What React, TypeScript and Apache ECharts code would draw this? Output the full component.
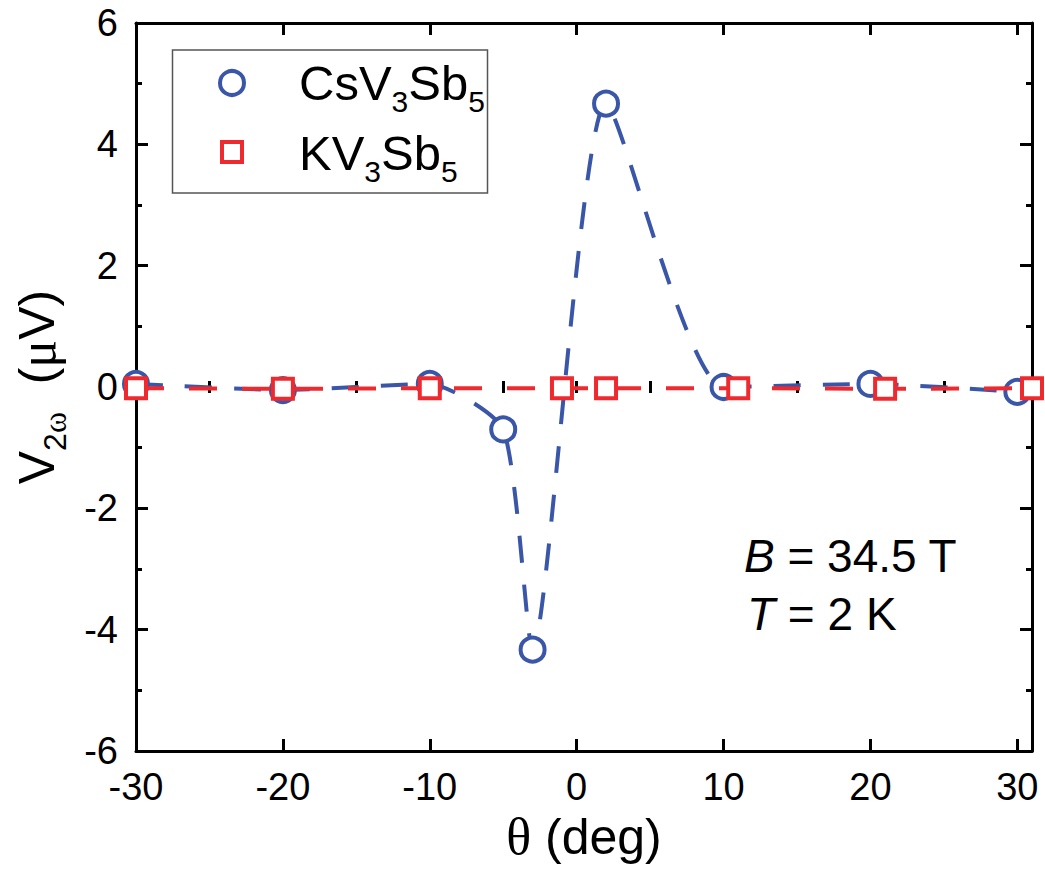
import React, { useEffect, useRef } from "react";
import * as echarts from "echarts";

const FONT = "'Liberation Sans', Arial, Helvetica, sans-serif";
const SERIF = "'Liberation Serif', 'Times New Roman', serif";

// CsV3Sb5 (blue circles)
const csAngles = [-30, -20, -10, -5, -3, 2, 10, 20, 30];
const csValues = [0.05, -0.05, 0.05, -0.7, -4.33, 4.67, 0.0, 0.05, -0.08];
// KV3Sb5 (red squares)
const kAngles = [-30, -20, -10, -1, 2, 11, 21, 31];
const kValues = [-0.02, -0.03, -0.02, -0.02, -0.02, -0.02, -0.03, -0.02];

const xMin = -30;
const xMax = 31;
const yMin = -6;
const yMax = 6;

const BLUE = "#3a56a8";
const RED = "#ee2a2e";

export default function App() {
  const ref = useRef<HTMLDivElement>(null);

  useEffect(() => {
    if (!ref.current) return;
    const chart = echarts.init(ref.current, undefined, { renderer: "svg" });

    const tickLine = { color: "#000", width: 3 };
    const axisLine = { show: true, onZero: false, lineStyle: { color: "#000", width: 3 } };

    const xBase = (pos: string, interval: number, len: number, line: boolean) => ({
      type: "value",
      position: pos,
      min: xMin,
      max: xMax,
      interval,
      axisLine: line ? axisLine : { show: false },
      axisTick: { show: true, inside: true, length: len, lineStyle: tickLine },
      axisLabel: { show: false },
      splitLine: { show: false },
    });

    const subStyle = (fontFamily: string) => ({
      fontSize: 32,
      fontFamily,
      color: "#000",
      lineHeight: 32,
      verticalAlign: "top",
      padding: [38, 0, 0, 0],
    });

    const option: any = {
      animation: false,
      backgroundColor: "#fff",
      grid: { left: 136, right: 13, top: 23, bottom: 125, containLabel: false, outerBoundsMode: "none" },
      xAxis: [
        {
          ...xBase("bottom", 10, 12, true),
          axisLabel: {
            show: true,
            margin: 17,
            fontSize: 38,
            fontFamily: FONT,
            color: "#000",
            showMaxLabel: false,
            formatter: (v: number) => (v > 30 ? "" : String(v)),
          },
          name: "{t|θ}{a| (deg)}",
          nameLocation: "middle",
          nameGap: 56,
          nameTextStyle: {
            rich: {
              t: { fontSize: 52, fontFamily: SERIF, color: "#000", lineHeight: 52 },
              a: { fontSize: 50, fontFamily: FONT, color: "#000", lineHeight: 52 },
            },
          },
        },
        xBase("bottom", 5, 6, false),
        xBase("top", 10, 12, true),
        xBase("top", 5, 6, false),
      ],
      yAxis: [
        {
          type: "value",
          position: "left",
          min: yMin,
          max: yMax,
          interval: 2,
          axisLine,
          axisTick: { show: true, inside: true, length: 12, lineStyle: tickLine },
          minorTick: { show: true, splitNumber: 2, length: 6, lineStyle: tickLine },
          axisLabel: { margin: 18, fontSize: 38, fontFamily: FONT, color: "#000" },
          splitLine: { show: false },
          name: "{a|V}{s|2}{w|ω}{a|  (}{m|μ}{a|V)}",
          nameLocation: "middle",
          nameGap: 63,
          nameTextStyle: {
            rich: {
              a: { fontSize: 50, fontFamily: FONT, color: "#000", lineHeight: 72 },
              m: { fontSize: 52, fontFamily: SERIF, color: "#000", lineHeight: 72 },
              s: subStyle(FONT),
              w: subStyle(SERIF),
            },
          },
        },
        {
          type: "value",
          position: "right",
          min: yMin,
          max: yMax,
          interval: 2,
          axisLine,
          axisTick: { show: true, inside: true, length: 12, lineStyle: tickLine },
          minorTick: { show: true, splitNumber: 2, length: 6, lineStyle: tickLine },
          axisLabel: { show: false },
          splitLine: { show: false },
        },
      ],
      series: [
        {
          name: "CsV3Sb5",
          type: "line",
          xAxisIndex: 0,
          yAxisIndex: 0,
          data: csAngles.map((a, i) => [a, csValues[i]]),
          smooth: 0.2,
          clip: false,
          symbol: "circle",
          symbolSize: 24,
          itemStyle: { color: "#fff", borderColor: BLUE, borderWidth: 4 },
          lineStyle: { color: BLUE, width: 4, type: [27, 22] },
          z: 3,
        },
        {
          name: "KV3Sb5",
          type: "line",
          xAxisIndex: 0,
          yAxisIndex: 0,
          data: kAngles.map((a, i) => [a, kValues[i]]),
          clip: false,
          symbol: "rect",
          symbolSize: 20,
          itemStyle: { color: "#fff", borderColor: RED, borderWidth: 4 },
          lineStyle: { color: RED, width: 4, type: [28, 25] },
          z: 4,
        },
      ],
      graphic: [
        {
          type: "rect",
          shape: { x: 172.5, y: 50, width: 315, height: 143 },
          style: { fill: "#fff", stroke: "#555", lineWidth: 1.5 },
          z: 10,
        },
        {
          type: "circle",
          shape: { cx: 232, cy: 83, r: 12 },
          style: { fill: "#fff", stroke: BLUE, lineWidth: 4 },
          z: 11,
        },
        {
          type: "rect",
          shape: { x: 222, y: 142, width: 20, height: 20 },
          style: { fill: "#fff", stroke: RED, lineWidth: 4 },
          z: 11,
        },
        {
          type: "text",
          x: 299,
          y: 48.4,
          z: 11,
          style: {
            text: "{a|CsV}{s|3}{a|Sb}{s|5}",
            align: "left",
            verticalAlign: "top",
            rich: {
              a: { fontSize: 49, fontFamily: FONT, fill: "#000", lineHeight: 70 },
              s: { fontSize: 30, fontFamily: FONT, fill: "#000", lineHeight: 30, verticalAlign: "top", padding: [38, 0, 0, 0] },
            },
          },
        },
        {
          type: "text",
          x: 299,
          y: 118.4,
          z: 11,
          style: {
            text: "{a|KV}{s|3}{a|Sb}{s|5}",
            align: "left",
            verticalAlign: "top",
            rich: {
              a: { fontSize: 49, fontFamily: FONT, fill: "#000", lineHeight: 70 },
              s: { fontSize: 30, fontFamily: FONT, fill: "#000", lineHeight: 30, verticalAlign: "top", padding: [38, 0, 0, 0] },
            },
          },
        },
        {
          type: "text",
          x: 744,
          y: 528,
          z: 11,
          style: {
            text: "{i|B}{n| = 34.5 T}",
            align: "left",
            verticalAlign: "top",
            rich: {
              i: { fontSize: 46, fontFamily: FONT, fontStyle: "italic", fill: "#000", lineHeight: 56 },
              n: { fontSize: 46, fontFamily: FONT, fill: "#000", lineHeight: 56 },
            },
          },
        },
        {
          type: "text",
          x: 747,
          y: 586,
          z: 11,
          style: {
            text: "{i|T}{n| = 2 K}",
            align: "left",
            verticalAlign: "top",
            rich: {
              i: { fontSize: 46, fontFamily: FONT, fontStyle: "italic", fill: "#000", lineHeight: 56 },
              n: { fontSize: 46, fontFamily: FONT, fill: "#000", lineHeight: 56 },
            },
          },
        },
      ],
    };

    chart.setOption(option);
    return () => chart.dispose();
  }, []);

  return (
    <div
      ref={ref}
      style={{ position: "fixed", left: 0, top: 0, width: 1045, height: 876, background: "#fff" }}
    />
  );
}
